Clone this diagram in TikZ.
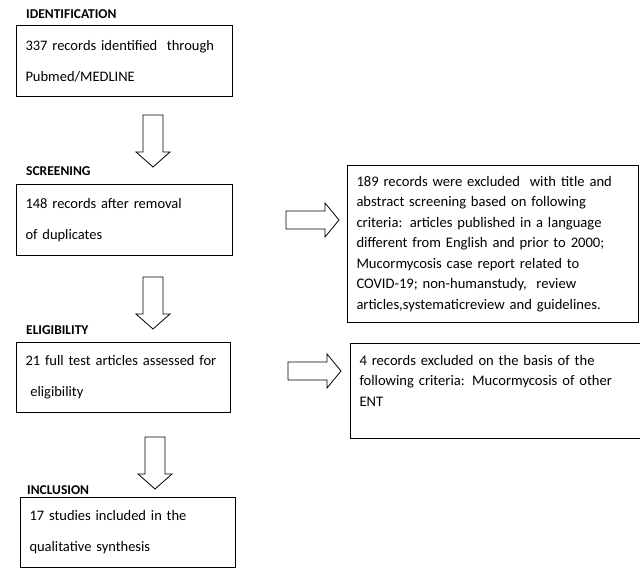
\documentclass[tikz,border=0pt]{standalone}
\usepackage{fontspec}
\setmainfont{Carlito}
\usetikzlibrary{positioning, calc}
\tikzset{
  box/.style    = {draw, line width=1pt, inner xsep=9pt, inner ysep=0pt,
                   align=left, anchor=north west, font=\fontsize{14.5}{31}\selectfont},
  exbox/.style  = {box, font=\fontsize{14.6}{20.5}\selectfont},
  head/.style   = {anchor=west, inner sep=0pt, font=\bfseries\fontsize{13.5}{15}\selectfont},
  downarr/.pic  = {\draw[line width=0.8pt, fill=white]
                   (-10,0) -- (10,0) -- (10,37) -- (17,37) -- (0,52)
                   -- (-17,37) -- (-10,37) -- cycle;},
  rightarr/.pic = {\draw[line width=0.8pt, fill=white]
                   (0,-9) -- (39,-9) -- (39,-17) -- (53,0) -- (39,17)
                   -- (39,9) -- (0,9) -- cycle;}
}

\begin{document}
\begin{tikzpicture}[x=1pt, y=-1pt]
\useasboundingbox (0,0) rectangle (640,569);

% Identification
\node[head] (identhead) at (26,14) {IDENTIFICATION};
\node[box, text width=198pt, minimum height=71pt] (ident) at (16,25)
  {337 records identified\ \ through\\Pubmed/MEDLINE};

\pic at (153,115) {downarr};

% Screening
\node[head] (screenhead) at (26,171) {SCREENING};
\node[box, text width=198pt, minimum height=71pt] (screen) at (16,184)
  {148 records after\ removal\\of duplicates};

\pic at (286,220) {rightarr};
\node[exbox, text width=273pt, minimum height=157pt] (screenex) at (347,165)
  {189 records were excluded\ \ with title\ and\\
   abstract screening\ based on following\\
   criteria: articles published\ in a language\\
   different from English\ and prior to\ 2000;\\
   Mucormycosis case report related to\\
   COVID-19; non-humanstudy,\ \ review\\
   articles,systematicreview and guidelines.};

\pic at (153,277) {downarr};

% Eligibility
\node[head] (elighead) at (26,330) {ELIGIBILITY};
\node[box, text width=196pt, minimum height=70pt] (elig) at (16,342)
  {21 full test articles\ assessed for\\\ eligibility};

\pic at (288,371) {rightarr};
\node[exbox, text width=272pt, minimum height=95pt] (eligex) at (350,343)
  {4 records excluded\ on the basis of the\\
   following\ criteria: Mucormycosis\ of other\\
   ENT\\~};

\pic at (155,437) {downarr};

% Inclusion
\node[head] (inclhead) at (27,490) {INCLUSION};
\node[box, text width=197pt, minimum height=70pt] (incl) at (20,497)
  {17 studies\ included\ in the\\qualitative synthesis};

\end{tikzpicture}
\end{document}
